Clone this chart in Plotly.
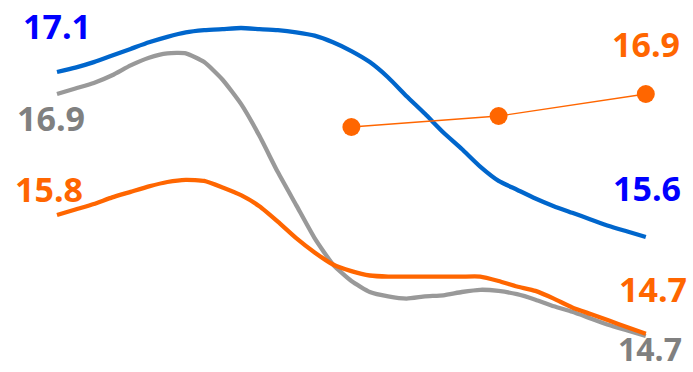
import plotly.graph_objects as go

# Period index (33 evenly spaced observations)
periods = list(range(33))

blue_series = [17.10, 17.14, 17.19, 17.25, 17.31, 17.37, 17.42, 17.46, 17.48, 17.49,
               17.50, 17.49, 17.48, 17.46, 17.43, 17.37, 17.29, 17.19, 17.05, 16.88,
               16.72, 16.55, 16.40, 16.24, 16.11, 16.03, 15.95, 15.88, 15.82, 15.76,
               15.70, 15.65, 15.60]

gray_series = [16.90, 16.95, 17.00, 17.07, 17.16, 17.23, 17.27, 17.27, 17.19, 17.03,
               16.81, 16.52, 16.19, 15.89, 15.59, 15.35, 15.20, 15.10, 15.06, 15.04,
               15.06, 15.07, 15.10, 15.12, 15.11, 15.08, 15.03, 14.97, 14.92, 14.86,
               14.80, 14.75, 14.70]

orange_series = [15.80, 15.85, 15.90, 15.96, 16.01, 16.06, 16.10, 16.12, 16.11, 16.05,
                 15.98, 15.88, 15.74, 15.59, 15.46, 15.35, 15.29, 15.25, 15.24, 15.24,
                 15.24, 15.24, 15.24, 15.24, 15.20, 15.15, 15.11, 15.04, 14.96, 14.90,
                 14.84, 14.78, 14.72]

marker_periods = [16, 24, 32]
marker_values = [16.60, 16.70, 16.90]

BLUE_LINE, BLUE_TEXT = "#0066CC", "#0000FF"
GRAY_LINE, GRAY_TEXT = "#999999", "#808080"
ORANGE = "#FF6600"
FONT = "Open Sans"

fig = go.Figure()
for values, color in [(blue_series, BLUE_LINE), (gray_series, GRAY_LINE),
                      (orange_series, ORANGE)]:
    fig.add_trace(go.Scatter(x=periods, y=values, mode="lines",
                             line=dict(color=color, width=4.3,
                                       shape="spline", smoothing=0.5)))
fig.add_trace(go.Scatter(x=marker_periods, y=marker_values, mode="lines+markers",
                         line=dict(color=ORANGE, width=1.3),
                         marker=dict(color=ORANGE, size=18)))

def label(x, y, color, xshift, yshift, size=34):
    fig.add_annotation(x=x, y=y, text=f"{y:.1f}", showarrow=False,
                       xshift=xshift, yshift=yshift,
                       font=dict(family=FONT, size=size, color=color, weight="bold"))

label(periods[0], blue_series[0], BLUE_TEXT, 0, 46)
label(periods[0], gray_series[0], GRAY_TEXT, -6, -24)
label(periods[0], orange_series[0], ORANGE, -8, 26)
label(marker_periods[-1], marker_values[-1], ORANGE, 0, 50)
label(periods[-1], blue_series[-1], BLUE_TEXT, 1, 49)
label(periods[-1], orange_series[-1], ORANGE, 7, 45)
label(periods[-1], gray_series[-1], GRAY_TEXT, 4, -12, size=32)

fig.update_layout(
    width=693, height=372,
    margin=dict(l=0, r=0, t=0, b=0),
    paper_bgcolor="white", plot_bgcolor="white",
    showlegend=False,
    xaxis=dict(range=[-3.098, 34.565], visible=False),
    yaxis=dict(range=[14.3727, 17.7545], visible=False),
)

fig.write_html("out.html")
